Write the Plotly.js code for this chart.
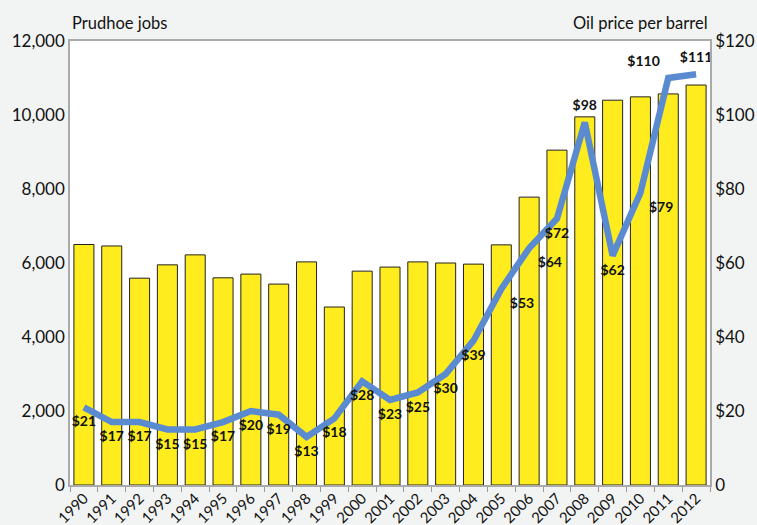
<!DOCTYPE html>
<html><head><meta charset="utf-8">
<script src="https://cdn.plot.ly/plotly-3.0.1.min.js"></script>
<style>html,body{margin:0;padding:0;background:#f2f4f3}</style>
</head><body>
<div id="chart" style="width:757px;height:525px"></div>
<script>
const years = ["1990","1991","1992","1993","1994","1995","1996","1997","1998","1999","2000","2001","2002","2003","2004","2005","2006","2007","2008","2009","2010","2011","2012"];
const jobs = [6500,6460,5590,5950,6220,5600,5700,5430,6030,4810,5780,5890,6030,6000,5970,6490,7780,9050,9950,10400,10490,10570,10810];
const oilPrice = [21,17,17,15,15,17,20,19,13,18,28,23,25,30,39,53,64,72,98,62,79,110,111];
const priceLabels = oilPrice.map(v => "$" + v);
const labelPos = ["bottom center","bottom center","bottom center","bottom center","bottom center","bottom center","bottom center","bottom center","bottom center","bottom center","bottom center","bottom center","bottom center","bottom center","bottom center","bottom right","bottom right","bottom center","top center","bottom center","bottom right","top left","top center"];
const leftTicks = [0,2000,4000,6000,8000,10000,12000];
const leftTickText = ["0","2,000","4,000","6,000","8,000","10,000","12,000"];
const rightTicks = [0,20,40,60,80,100,120];
const rightTickText = ["0","$20","$40","$60","$80","$100","$120"];

const font = "Lato, 'Open Sans', sans-serif";
const data = [
  {type:"bar", x:years, y:jobs, marker:{color:"#FFEC1F", line:{color:"#222", width:1}}, hoverinfo:"skip"},
  {type:"scatter", mode:"lines+markers+text", x:years, y:oilPrice, yaxis:"y2", text:priceLabels,
   textposition:labelPos, textfont:{family:font, size:14, color:"#111", weight:"bold"},
   marker:{size:12, opacity:0, color:"#5A8AD0"},
   line:{color:"#5A8AD0", width:6.5}, cliponaxis:false}
];
const layout = {
  width:757, height:525,
  margin:{l:70, r:47, t:41, b:40},
  paper_bgcolor:"#f2f4f3", plot_bgcolor:"#ffffff",
  showlegend:false, bargap:0.28,
  font:{family:font, size:17, color:"#111"},
  xaxis:{type:"category", range:[-0.5, years.length - 0.5], tickson:"boundaries", ticks:"outside", ticklen:5, tickcolor:"#999",
         tickangle:-45, tickfont:{size:15}, ticklabelstandoff:-3, showline:true, linecolor:"#aaa", linewidth:1.5,
         mirror:true, showgrid:false, automargin:false},
  yaxis:{range:[0,12000], tickvals:leftTicks, ticktext:leftTickText, showgrid:false, zeroline:false,
         showline:true, linecolor:"#aaa", linewidth:1.5, ticks:"", automargin:false},
  yaxis2:{range:[0,120], overlaying:"y", side:"right", tickvals:rightTicks, ticktext:rightTickText,
          showgrid:false, zeroline:false, showline:true, linecolor:"#aaa", linewidth:1.5, automargin:false},
  annotations:[
    {text:"Prudhoe jobs", xref:"paper", yref:"paper", x:0, y:1, xanchor:"left", yanchor:"bottom", yshift:6, showarrow:false, font:{size:16.5}},
    {text:"Oil price per barrel", xref:"paper", yref:"paper", x:1, y:1, xanchor:"right", yanchor:"bottom", yshift:6, showarrow:false, font:{size:16.5}}
  ]
};
Plotly.newPlot("chart", data, layout, {displayModeBar:false});
</script>
</body></html>
